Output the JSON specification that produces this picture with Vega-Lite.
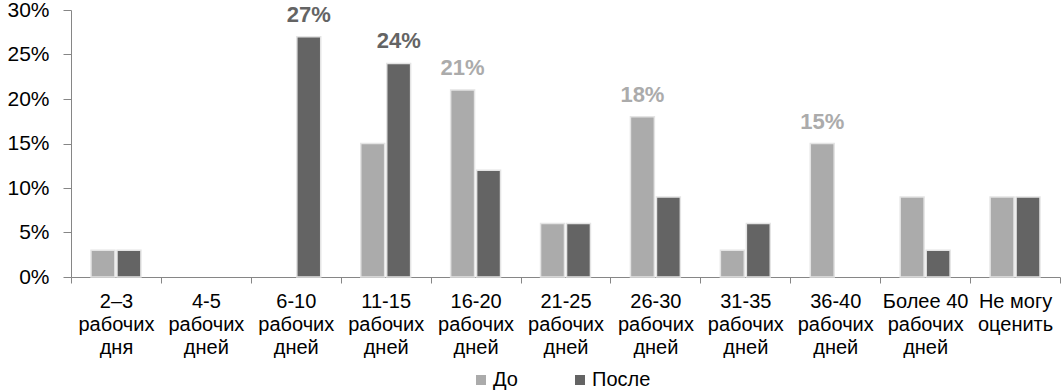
{
  "$schema": "https://vega.github.io/schema/vega-lite/v6.json",
  "width": 989,
  "height": 267,
  "autosize": {"type": "none"},
  "padding": {"left": 71, "top": 10, "right": 4, "bottom": 115},
  "config": {"font": "Liberation Sans", "view": {"stroke": null}},
  "data": {
    "values": [
      {"cat": "2–3\nрабочих\nдня", "group": "До", "value": 0.03, "label": ""},
      {"cat": "2–3\nрабочих\nдня", "group": "После", "value": 0.03, "label": ""},
      {"cat": "4-5\nрабочих\nдней", "group": "До", "value": 0, "label": ""},
      {"cat": "4-5\nрабочих\nдней", "group": "После", "value": 0, "label": ""},
      {"cat": "6-10\nрабочих\nдней", "group": "До", "value": 0, "label": ""},
      {"cat": "6-10\nрабочих\nдней", "group": "После", "value": 0.27, "label": "27%"},
      {"cat": "11-15\nрабочих\nдней", "group": "До", "value": 0.15, "label": ""},
      {"cat": "11-15\nрабочих\nдней", "group": "После", "value": 0.24, "label": "24%"},
      {"cat": "16-20\nрабочих\nдней", "group": "До", "value": 0.21, "label": "21%"},
      {"cat": "16-20\nрабочих\nдней", "group": "После", "value": 0.12, "label": ""},
      {"cat": "21-25\nрабочих\nдней", "group": "До", "value": 0.06, "label": ""},
      {"cat": "21-25\nрабочих\nдней", "group": "После", "value": 0.06, "label": ""},
      {"cat": "26-30\nрабочих\nдней", "group": "До", "value": 0.18, "label": "18%"},
      {"cat": "26-30\nрабочих\nдней", "group": "После", "value": 0.09, "label": ""},
      {"cat": "31-35\nрабочих\nдней", "group": "До", "value": 0.03, "label": ""},
      {"cat": "31-35\nрабочих\nдней", "group": "После", "value": 0.06, "label": ""},
      {"cat": "36-40\nрабочих\nдней", "group": "До", "value": 0.15, "label": "15%"},
      {"cat": "36-40\nрабочих\nдней", "group": "После", "value": 0, "label": ""},
      {"cat": "Более 40\nрабочих\nдней", "group": "До", "value": 0.09, "label": ""},
      {"cat": "Более 40\nрабочих\nдней", "group": "После", "value": 0.03, "label": ""},
      {"cat": "Не могу\nоценить", "group": "До", "value": 0.09, "label": ""},
      {"cat": "Не могу\nоценить", "group": "После", "value": 0.09, "label": ""}
    ]
  },
  "encoding": {
    "x": {
      "field": "cat", "type": "nominal", "title": null,
      "sort": ["2–3\nрабочих\nдня", "4-5\nрабочих\nдней", "6-10\nрабочих\nдней", "11-15\nрабочих\nдней", "16-20\nрабочих\nдней", "21-25\nрабочих\nдней", "26-30\nрабочих\nдней", "31-35\nрабочих\nдней", "36-40\nрабочих\nдней", "Более 40\nрабочих\nдней", "Не могу\nоценить"],
      "scale": {"paddingInner": 0, "paddingOuter": 0},
      "axis": {
        "labelAngle": 0, "tickBand": "extent", "labelExpr": "split(datum.label, '\\n')",
        "labelFontSize": 20, "labelColor": "#000000", "labelLineHeight": 23,
        "labelPadding": 8, "tickSize": 6, "domainColor": "#868686", "tickColor": "#868686",
        "labelLimit": 200
      }
    },
    "xOffset": {"field": "group", "sort": ["До", "После"], "scale": {"paddingInner": 0.08, "paddingOuter": 0.77}},
    "y": {
      "field": "value", "type": "quantitative", "title": null,
      "scale": {"domain": [0, 0.3]},
      "axis": {
        "values": [0, 0.05, 0.1, 0.15, 0.2, 0.25, 0.3], "format": ".0%", "grid": false,
        "labelFontSize": 21, "labelColor": "#000000", "labelPadding": 14, "tickSize": 8,
        "domainColor": "#868686", "tickColor": "#868686"
      }
    },
    "color": {
      "field": "group", "type": "nominal", "sort": ["До", "После"],
      "scale": {"domain": ["До", "После"], "range": ["#ababab", "#646464"]},
      "legend": {
        "orient": "none", "legendX": 400, "legendY": 360, "direction": "horizontal", "title": null,
        "symbolType": "square", "symbolSize": 100, "symbolStrokeWidth": 0, "labelFontSize": 20,
        "labelColor": "#000000", "labelOffset": 2, "columnPadding": 52
      }
    }
  },
  "layer": [
    {"transform": [{"filter": "datum.value > 0"}],
     "mark": {"type": "bar", "stroke": "#e4e4e4", "strokeWidth": 1.5}},
    {"mark": {"type": "text", "fontWeight": "bold", "fontSize": 22, "baseline": "alphabetic", "dy": -15},
     "encoding": {"text": {"field": "label"}}}
  ]
}
